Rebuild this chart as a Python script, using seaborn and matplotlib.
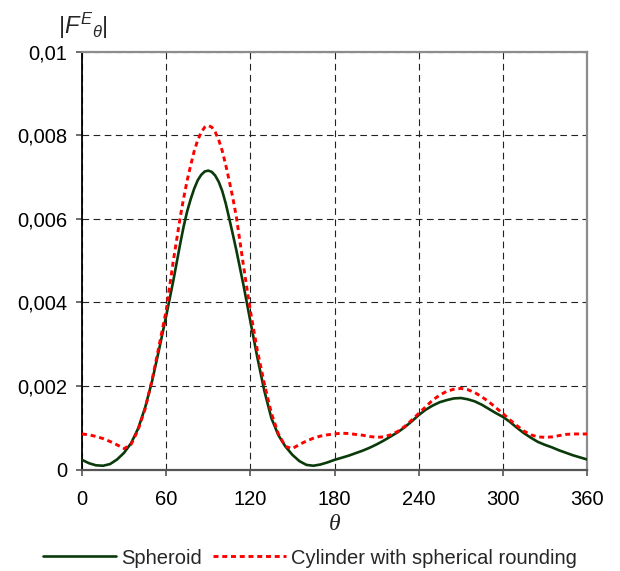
import matplotlib
matplotlib.use("Agg")
import matplotlib.pyplot as plt
import seaborn as sns
import pandas as pd

theta = ([0, 5, 10, 15, 20, 25, 30, 35, 40, 45, 50, 55, 60, 65, 70]
         + [72.5, 75, 77.5, 80, 82.5, 85, 87.5, 90, 92.5, 95, 97.5, 100, 102.5, 105, 107.5]
         + list(range(110, 365, 5)))

spheroid = [0.00023, 0.00015, 0.00010, 0.00009, 0.00013, 0.00024, 0.00040, 0.00063,
            0.00098, 0.00148, 0.00212, 0.00288, 0.00367, 0.00450, 0.00540,
            0.00582, 0.00618, 0.00647, 0.00672, 0.00692, 0.00705, 0.00713, 0.00715,
            0.00712, 0.00703, 0.00688, 0.00666, 0.00636, 0.00600, 0.00563,
            0.00525, 0.00443, 0.00355, 0.00268, 0.00188, 0.00123, 0.00082, 0.00055,
            0.00035, 0.00020, 0.00011, 0.00009, 0.00012, 0.00017, 0.00023, 0.00028,
            0.00033, 0.00039, 0.00045, 0.00052, 0.00060, 0.00069, 0.00079, 0.00089,
            0.00101, 0.00115, 0.00130, 0.00143, 0.00153, 0.00161, 0.00166, 0.00170,
            0.00171, 0.00168, 0.00163, 0.00155, 0.00145, 0.00135, 0.00126, 0.00114,
            0.00100, 0.00087, 0.00076, 0.00066, 0.00059, 0.00053, 0.00046, 0.00040,
            0.00034, 0.00029, 0.00024]

cylinder = [0.00085, 0.00083, 0.00079, 0.00074, 0.00067, 0.00059, 0.00050, 0.00060,
            0.00095, 0.00145, 0.00215, 0.00297, 0.00380, 0.00497, 0.00603,
            0.00650, 0.00692, 0.00728, 0.00762, 0.00788, 0.00807, 0.00819, 0.00823,
            0.00819, 0.00807, 0.00788, 0.00762, 0.00728, 0.00690, 0.00650,
            0.00605, 0.00490, 0.00380, 0.00285, 0.00205, 0.00135, 0.00085, 0.00055,
            0.00050, 0.00060, 0.00068, 0.00075, 0.00080, 0.00083, 0.00085, 0.00087,
            0.00086, 0.00084, 0.00082, 0.00079, 0.00077, 0.00078, 0.00083, 0.00091,
            0.00103, 0.00118, 0.00134, 0.00150, 0.00166, 0.00178, 0.00187, 0.00192,
            0.00194, 0.00191, 0.00184, 0.00174, 0.00162, 0.00148, 0.00134, 0.00119,
            0.00105, 0.00092, 0.00083, 0.00078, 0.00077, 0.00078, 0.00081, 0.00084,
            0.00085, 0.00085, 0.00085]

x_ticks = [0, 60, 120, 180, 240, 300, 360]
y_ticks = [0, 0.002, 0.004, 0.006, 0.008, 0.01]
y_tick_labels = ["0", "0,002", "0,004", "0,006", "0,008", "0,01"]
series_names = ["Spheroid", "Cylinder with spherical rounding"]

sns.set_theme(style="white")
plt.rcParams['font.family'] = ['Liberation Sans', 'DejaVu Sans']
plt.rcParams['mathtext.fontset'] = 'custom'
plt.rcParams['mathtext.rm'] = 'Liberation Sans'
plt.rcParams['mathtext.it'] = 'Liberation Sans:italic'

fig = plt.figure(figsize=(6.2, 5.71), dpi=100)
ax = fig.add_axes([82/620, 1 - 469.5/571, (587 - 82)/620, (469.5 - 51.5)/571])

df1 = pd.DataFrame({"theta": theta, "F": spheroid})
df2 = pd.DataFrame({"theta": theta, "F": cylinder})

sns.lineplot(data=df1, x="theta", y="F", ax=ax, color="#0a3a0a", linewidth=1.9,
             label=series_names[0], zorder=3)
sns.lineplot(data=df2, x="theta", y="F", ax=ax, color="#ff0000", linewidth=2.1,
             label=series_names[1], zorder=4)
ax.lines[1].set_dashes((1.7, 1.3))

ax.set_xlim(0, 360)
ax.set_ylim(0, 0.01)
ax.set_xticks(x_ticks)
ax.set_xticklabels([str(t) for t in x_ticks], fontsize=14.5)
ax.set_yticks(y_ticks)
ax.set_yticklabels(y_tick_labels, fontsize=14.5)

ax.grid(True, color="#222222", linestyle=(0, (6, 4)), linewidth=0.8)
ax.set_axisbelow(True)

ax.tick_params(axis='both', direction='out', length=4.5, width=1.2, color="#555555",
               bottom=True, left=True, labelcolor="black")
ax.tick_params(axis='y', pad=6)
ax.tick_params(axis='x', pad=10)

for side in ["top", "right"]:
    ax.spines[side].set_color("#8c8c8c")
    ax.spines[side].set_linewidth(1.6)
ax.spines["left"].set_color("black")
ax.spines["left"].set_linewidth(1.3)
ax.spines["bottom"].set_color("#555555")
ax.spines["bottom"].set_linewidth(1.6)

ax.set_xlabel("")
ax.set_ylabel("")
fig.text(335/620, 1 - 525/571, "θ", fontsize=17, ha="center", va="center",
         family=['Liberation Serif'], style='italic')
fig.text(58/620, 1 - 26/571, r"$|F^{E}{}_{\theta}|$", fontsize=17, ha="left", va="center")

ax.legend(loc="center", bbox_to_anchor=(0.5, 1 - 558/571),
          bbox_transform=fig.transFigure, ncol=2, frameon=False, fontsize=14.5,
          handlelength=3.6, handletextpad=0.25, columnspacing=0.6)

fig.savefig("out.png", dpi=100)
